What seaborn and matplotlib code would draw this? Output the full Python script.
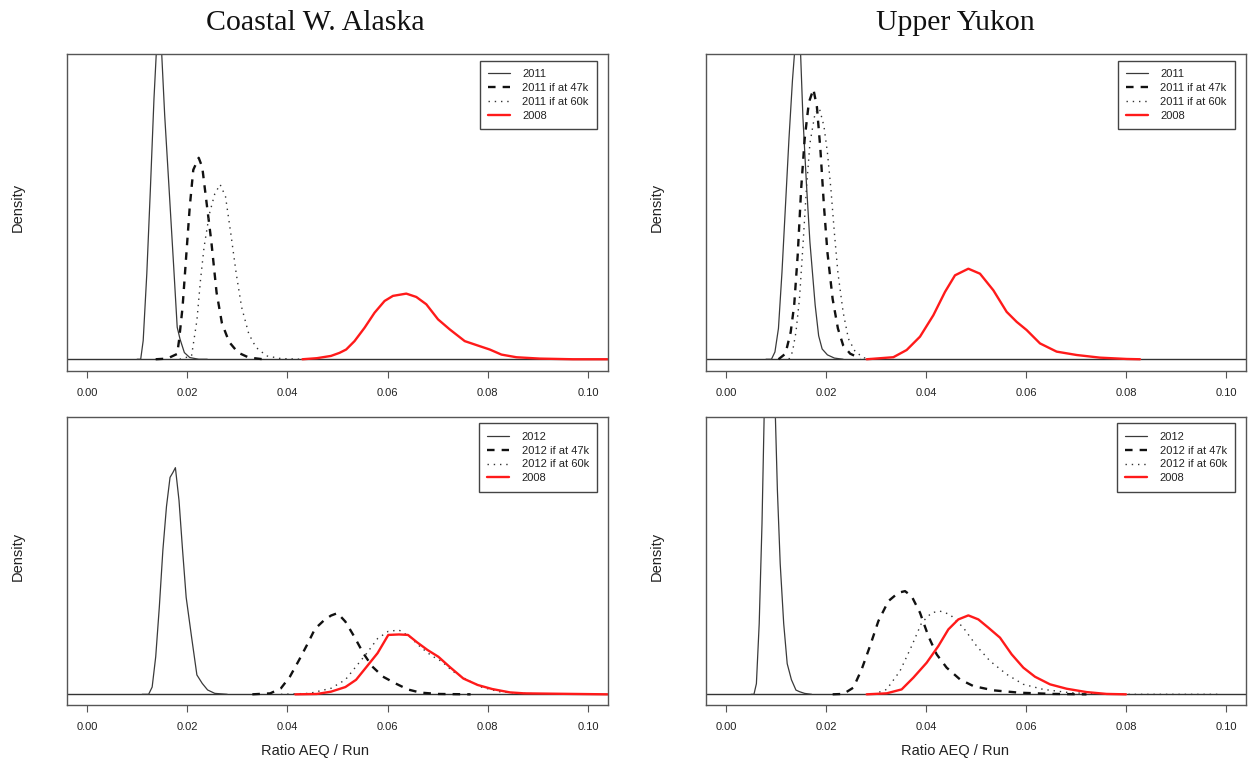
import matplotlib
matplotlib.use("Agg")
import matplotlib.pyplot as plt
import seaborn as sns

sns.set_theme(style="white")
plt.rcParams["font.family"] = ["Liberation Sans", "DejaVu Sans"]

# ---------------------------------------------------------------
# Density curves of the ratio AEQ / Run (x = ratio, y = density)
# ---------------------------------------------------------------

# Coastal W. Alaska, 2011
cwa11_x = [0.0100, 0.01071, 0.01121, 0.01193, 0.01264, 0.01336, 0.01386, 0.01429,
           0.01479, 0.0155, 0.01636, 0.01729, 0.0180, 0.01857, 0.01943, 0.0205, 0.0223, 0.0240]
cwa11_y = [0, 0, 14, 64, 127, 195, 232, 262, 238, 183, 129, 70, 24, 15, 5, 1.3, 0, 0]

cwa11_47_x = [0.0137, 0.0160, 0.0180, 0.01836, 0.01907, 0.01979, 0.0205, 0.02121, 0.02229,
              0.0230, 0.02371, 0.02479, 0.02586, 0.02693, 0.02836, 0.03014, 0.03229, 0.03514]
cwa11_47_y = [0, 0.5, 4, 14, 39, 77, 114, 142, 151, 144, 122, 89, 50, 27, 13, 5, 1.3, 0]

cwa11_60_x = [0.0185, 0.02086, 0.02193, 0.02264, 0.02336, 0.02443, 0.0255, 0.02657, 0.02764,
              0.02871, 0.02979, 0.03086, 0.03229, 0.03371, 0.03586, 0.03871, 0.0430]
cwa11_60_y = [0, 2.5, 29, 59, 84, 109, 124, 131, 122, 94, 64, 39, 19, 9, 2.5, 0.5, 0]

cwa08a_x = [0.0430, 0.04586, 0.0487, 0.0504, 0.05173, 0.0534, 0.0554, 0.0574, 0.0594,
            0.06107, 0.06373, 0.06573, 0.06773, 0.07007, 0.0724, 0.0754, 0.0784, 0.0804,
            0.08273, 0.08573, 0.0904, 0.0970, 0.1039]
cwa08a_y = [0, 0.8, 2.5, 4.8, 7.3, 13.6, 23.6, 34.9, 43.7, 47.5, 49.2, 46.7, 41.2, 29.9,
            22.4, 13.6, 9.8, 7.3, 3.5, 1.5, 0.5, 0, 0]

# Upper Yukon, 2011
uy11_x = [0.0080, 0.00909, 0.00979, 0.01049, 0.01119, 0.0119, 0.01259, 0.01329, 0.01378,
          0.0142, 0.0149, 0.01538, 0.01608, 0.01678, 0.01783, 0.01853, 0.01923, 0.02028,
          0.02168, 0.02343]
uy11_y = [0, 0, 5, 21, 59, 105, 150, 190, 212, 228, 210, 165, 120, 80, 37, 16, 7, 3, 0.8, 0]

uy11_47_x = [0.0105, 0.01189, 0.01294, 0.01364, 0.01434, 0.01503, 0.01573, 0.01657, 0.01748,
             0.01818, 0.01888, 0.01958, 0.02028, 0.02133, 0.02238, 0.02343, 0.02483, 0.02692]
uy11_47_y = [0, 3.8, 18.5, 37, 71, 116, 150, 175, 184, 172, 143, 105, 73, 41, 21, 9.5, 3.8, 0.5]

uy11_60_x = [0.01259, 0.01329, 0.01399, 0.01469, 0.01538, 0.01608, 0.01678, 0.01783, 0.01867,
             0.01958, 0.02028, 0.02098, 0.02168, 0.02238, 0.02343, 0.02448, 0.02587, 0.02762,
             0.02972]
uy11_60_y = [0, 5, 18.5, 41, 77, 116, 147, 168, 171, 159, 141, 116, 86, 59, 32, 14, 5, 1, 0]

uy08a_x = [0.02813, 0.03347, 0.03613, 0.0388, 0.04147, 0.0438, 0.0458, 0.04847, 0.0508,
           0.05347, 0.05613, 0.05813, 0.06013, 0.0628, 0.06613, 0.07013, 0.0748, 0.08013,
           0.0828]
uy08a_y = [0, 1.4, 6.3, 15.4, 30, 45.9, 57.2, 61.7, 58.3, 47, 32.3, 25.5, 19.9, 10.8,
           5.2, 2.9, 1.1, 0.2, 0]

# Coastal W. Alaska, 2012
cwa12_x = [0.0110, 0.01229, 0.0130, 0.01371, 0.01443, 0.01514, 0.01586, 0.01657, 0.01714,
           0.01764, 0.01836, 0.01907, 0.01979, 0.02086, 0.02193, 0.0230, 0.02407, 0.0255, 0.0280]
cwa12_y = [0, 0, 6, 31, 72, 119, 155, 179, 183, 187, 160, 119, 80, 47.5, 16, 9, 3.6, 0.8, 0]

cwa12_47_x = [0.0330, 0.03657, 0.03871, 0.0405, 0.04229, 0.04407, 0.0455, 0.04729, 0.04871,
              0.0500, 0.05157, 0.05336, 0.05514, 0.05693, 0.05907, 0.06157, 0.06407, 0.06657,
              0.07014, 0.07657]
cwa12_47_y = [0, 0.8, 5, 14.6, 28, 42, 54, 61, 65, 67, 60, 47.5, 34, 23, 14.6, 9, 4, 1.4, 0.3, 0]

cwa12_60_x = [0.03871, 0.04443, 0.04871, 0.05157, 0.05371, 0.05586, 0.0580, 0.06014, 0.06229,
              0.06443, 0.06657, 0.06871, 0.07086, 0.0730, 0.07586, 0.07871, 0.08229, 0.08657,
              0.09443]
cwa12_60_y = [0, 0.8, 5, 12, 23, 34, 46, 52, 53, 47.5, 39, 32, 27, 19, 12, 6, 2.2, 0.8, 0]

cwa08b_x = [0.04157, 0.04586, 0.04871, 0.05157, 0.05371, 0.05586, 0.0580, 0.06014, 0.06229,
            0.06407, 0.06586, 0.0680, 0.07014, 0.07229, 0.07514, 0.0780, 0.08086, 0.08443,
            0.0873, 0.1039]
cwa08b_y = [0, 0.3, 2.2, 6, 12, 23, 34, 49, 49.4, 49, 43, 36.5, 31, 23, 13, 7.7, 4.4, 1.6,
            0.8, 0]

# Upper Yukon, 2012
uy12_x = [0.0050, 0.00559, 0.00608, 0.00664, 0.0072, 0.00769, 0.00874, 0.00979, 0.01028,
          0.01084, 0.01154, 0.01224, 0.01308, 0.01399, 0.01469, 0.01573, 0.01713]
uy12_y = [0, 0, 8, 53, 128, 220, 350, 220, 153, 98, 53, 23, 11, 3.2, 2, 0.7, 0]

uy12_47_x = [0.02133, 0.02347, 0.02547, 0.02713, 0.0288, 0.03047, 0.03247, 0.03447, 0.0358,
             0.03713, 0.0388, 0.04047, 0.04213, 0.04413, 0.0468, 0.04947, 0.05347, 0.0588,
             0.06547, 0.0721]
uy12_47_y = [0, 0.3, 5, 18.7, 36.2, 54.9, 69.9, 76.2, 77.4, 73.6, 61.2, 43.7, 30, 20, 11.2,
             6.2, 3, 1.2, 0.3, 0]

uy12_60_x = [0.02947, 0.03213, 0.0348, 0.03713, 0.03913, 0.04113, 0.0428, 0.0448, 0.04747,
             0.05013, 0.0528, 0.05613, 0.05947, 0.06347, 0.0688, 0.07547, 0.0800, 0.0990]
uy12_60_y = [0, 3.7, 17.5, 36.2, 53.7, 61.2, 62.4, 59.9, 50, 36.2, 25, 15, 7.5, 3.7, 1.2,
             0.3, 0, 0]

uy08b_x = [0.02813, 0.03213, 0.03513, 0.03747, 0.04013, 0.04247, 0.04447, 0.04647, 0.04847,
           0.05047, 0.05247, 0.0548, 0.05713, 0.05947, 0.0618, 0.0648, 0.06813, 0.0721,
           0.07613, 0.0800]
uy08b_y = [0, 0.75, 3.7, 12.5, 23.7, 36.2, 48.7, 56.2, 59.2, 56.2, 50, 42.5, 30, 20, 13.2,
           7.5, 4.2, 1.7, 0.3, 0]

titles = ["Coastal W. Alaska", "Upper Yukon"]
x_ticks = [0.00, 0.02, 0.04, 0.06, 0.08, 0.10]
x_tick_labels = ["0.00", "0.02", "0.04", "0.06", "0.08", "0.10"]
x_label = "Ratio AEQ / Run"
y_label = "Density"

panels = [
    # (curves, legend labels, y max)
    ([(cwa11_x, cwa11_y), (cwa11_47_x, cwa11_47_y), (cwa11_60_x, cwa11_60_y), (cwa08a_x, cwa08a_y)],
     ["2011", "2011 if at 47k", "2011 if at 60k", "2008"], 220),
    ([(uy11_x, uy11_y), (uy11_47_x, uy11_47_y), (uy11_60_x, uy11_60_y), (uy08a_x, uy08a_y)],
     ["2011", "2011 if at 47k", "2011 if at 60k", "2008"], 200),
    ([(cwa12_x, cwa12_y), (cwa12_47_x, cwa12_47_y), (cwa12_60_x, cwa12_60_y), (cwa08b_x, cwa08b_y)],
     ["2012", "2012 if at 47k", "2012 if at 60k", "2008"], 220),
    ([(uy12_x, uy12_y), (uy12_47_x, uy12_47_y), (uy12_60_x, uy12_60_y), (uy08b_x, uy08b_y)],
     ["2012", "2012 if at 47k", "2012 if at 60k", "2008"], 200),
]

styles = [
    dict(color="#3a3a3a", lw=0.9, linestyle="-"),
    dict(color="#111111", lw=1.7, linestyle=(0, (3.2, 3.0))),
    dict(color="#333333", lw=1.0, linestyle=(0, (1.0, 3.5))),
    dict(color="#ff1a1a", lw=1.7, linestyle="-"),
]

W, H = 1248, 766
fig = plt.figure(figsize=(W / 100, H / 100), dpi=100)

# axes boxes in pixels: left, top, right, bottom
boxes = [(67, 54, 608, 371), (706, 54, 1246, 371),
         (67, 417, 608, 705), (706, 417, 1246, 705)]

for (curves, labels, ymax), (l, t, r, b) in zip(panels, boxes):
    ax = fig.add_axes([l / W, 1 - b / H, (r - l) / W, (b - t) / H])
    ax.axhline(0, color="#333333", lw=1.0, zorder=1)
    for (xs, ys), lab, st in zip(curves, labels, styles):
        sns.lineplot(x=xs, y=ys, ax=ax, label=lab, estimator=None, sort=False,
                     color=st["color"], lw=st["lw"], linestyle=st["linestyle"], zorder=2)
    for ln in ax.get_lines():
        ln.set_solid_joinstyle("round")
        ln.set_dash_joinstyle("round")
    ax.set_xlim(-0.004, 0.104)
    ax.set_ylim(-0.04 * ymax, 1.04 * ymax)
    ax.set_yticks([])
    ax.set_xticks(x_ticks)
    ax.set_xticklabels(x_tick_labels)
    ax.set_xlabel("")
    ax.set_ylabel("")
    ax.tick_params(axis="x", direction="out", length=5, width=0.8, color="#555555",
                   pad=7, labelsize=8, labelcolor="#222222", bottom=True)
    for sp in ax.spines.values():
        sp.set_color("#555555")
        sp.set_linewidth(1.0)
    leg = ax.legend(loc="upper right", bbox_to_anchor=(0.98, 0.978), fontsize=8,
                    frameon=True, fancybox=False, framealpha=1, edgecolor="#444444",
                    handlelength=2.0, handletextpad=1.1, labelspacing=0.35,
                    borderpad=0.75, borderaxespad=0)
    leg.get_frame().set_linewidth(1.0)
    for txt in leg.get_texts():
        txt.set_color("#222222")
    # y label
    fig.text((l - 49) / W, 1 - ((t + b) / 2 - 5) / H, y_label, rotation=90,
             ha="center", va="center", fontsize=10.5, color="#222222")

for title, cx in zip(titles, [315, 955]):
    fig.text(cx / W, 1 - 23 / H, title, ha="center", va="center", fontsize=21.5,
             family=["Liberation Serif", "DejaVu Serif"], color="#111111")

for cx in [315, 955]:
    fig.text(cx / W, 1 - 751 / H, x_label, ha="center", va="center", fontsize=10.5,
             color="#222222")

fig.savefig("out.png", dpi=100, facecolor="white")
